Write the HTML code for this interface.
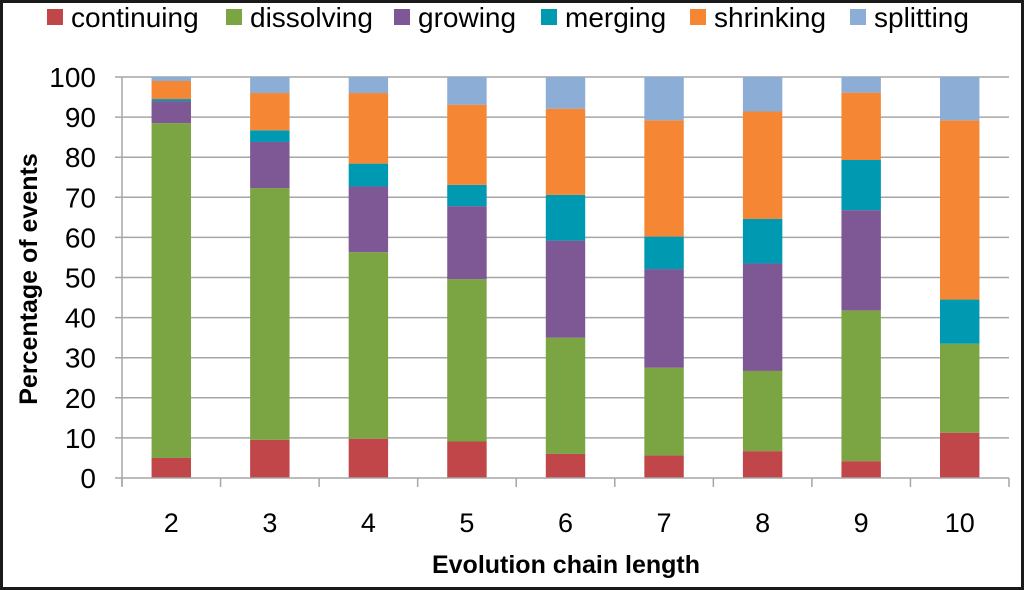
<!DOCTYPE html>
<html><head><meta charset="utf-8"><style>
html,body{margin:0;padding:0;background:#fff;}
svg{display:block;font-family:"Liberation Sans",sans-serif;}
</style></head><body>
<svg id="chart" width="1024" height="590" viewBox="0 0 1024 590">
<rect x="1.5" y="1.5" width="1021" height="587" fill="#fff" stroke="#1a1a1a" stroke-width="3"/>
<g id="grid"></g>
<g id="bars"></g>
<g id="axes"></g>
<g id="legend"></g>
<text transform="translate(37,279) rotate(-90)" text-anchor="middle" font-size="25" font-weight="bold" fill="#000">Percentage of events</text>
<text x="566" y="573" text-anchor="middle" font-size="25" font-weight="bold" fill="#000">Evolution chain length</text>
</svg>
<script>
const categories = ["2","3","4","5","6","7","8","9","10"];
const continuing = [5, 9.5, 9.8, 9.1, 6, 5.6, 6.7, 4.2, 11.3];
const dissolving = [83.5, 62.8, 46.5, 40.5, 29, 21.9, 20, 37.6, 22.2];
const growing = [5.5, 11.5, 16.4, 18.2, 24.2, 24.6, 26.8, 25, 0];
const merging = [0.5, 2.9, 5.7, 5.3, 11.4, 8.1, 11.1, 12.5, 11];
const shrinking = [4.5, 9.3, 17.6, 20, 21.5, 29, 26.8, 16.8, 44.7];
const splitting = [1, 4, 4, 6.9, 7.9, 10.8, 8.6, 3.9, 10.8];
const yTicks = [0,10,20,30,40,50,60,70,80,90,100];
const seriesNames = ["continuing","dissolving","growing","merging","shrinking","splitting"];

const series = [continuing, dissolving, growing, merging, shrinking, splitting];
const colors = ["#C0464A","#7BA443","#7E5795","#0099B2","#F58634","#8CADD6"];
const NS = "http://www.w3.org/2000/svg";
const L = 122, R = 1009, T = 77, B = 478;
const band = (R - L) / categories.length;
const y = v => B - (v / 100) * (B - T);
const xc = i => L + band * (i + 0.5);
function mk(tag, attrs, parent, text) {
  const e = document.createElementNS(NS, tag);
  for (const k in attrs) e.setAttribute(k, attrs[k]);
  if (text !== undefined) e.textContent = text;
  parent.appendChild(e);
  return e;
}
const grid = document.getElementById('grid');
const axes = document.getElementById('axes');
const bars = document.getElementById('bars');
const legend = document.getElementById('legend');
yTicks.forEach(t => {
  const ln = mk('line', {x1: L - 7, x2: R, y1: y(t), y2: y(t), stroke: '#a6a6a6', 'stroke-width': 1.5}, t === 0 ? axes : grid);
  
  
  const tx = mk('text', {x: 96, y: y(t) + 10, 'text-anchor': 'end', 'font-size': 28, fill: '#000'}, axes, String(t));
  
  
});
const ya = mk('line', {x1: L, x2: L, y1: T, y2: B + 8, stroke: '#a6a6a6', 'stroke-width': 1.5}, axes);


for (let i = 0; i <= categories.length; i++) {
  const tk = mk('line', {x1: L + band * i, x2: L + band * i, y1: B, y2: B + 9, stroke: '#a6a6a6', 'stroke-width': 1.5}, axes);
  
  
}
categories.forEach((c, i) => {
  const tx = mk('text', {x: xc(i), y: 532, 'text-anchor': 'middle', 'font-size': 27, fill: '#000'}, axes, c);
  
  
  let cum = 0;
  const bw = band * 0.4;
  series.forEach((s, k) => {
    const v = s[i];
    const r = mk('rect', {x: xc(i) - bw / 2, y: y(cum + v), width: bw, height: Math.max(0, y(cum) - y(cum + v)), fill: colors[k]}, bars);
    
    
    cum += v;
  });
});
const legX = [47, 226, 394, 541, 690, 850];
seriesNames.forEach((n, k) => {
  const g = mk('g', {}, legend);
  
  
  mk('rect', {x: legX[k], y: 9, width: 16, height: 16, fill: colors[k]}, g);
  mk('text', {x: legX[k] + 24, y: 27, 'font-size': 28, fill: '#000'}, g, n);
});
</script>
</body></html>
